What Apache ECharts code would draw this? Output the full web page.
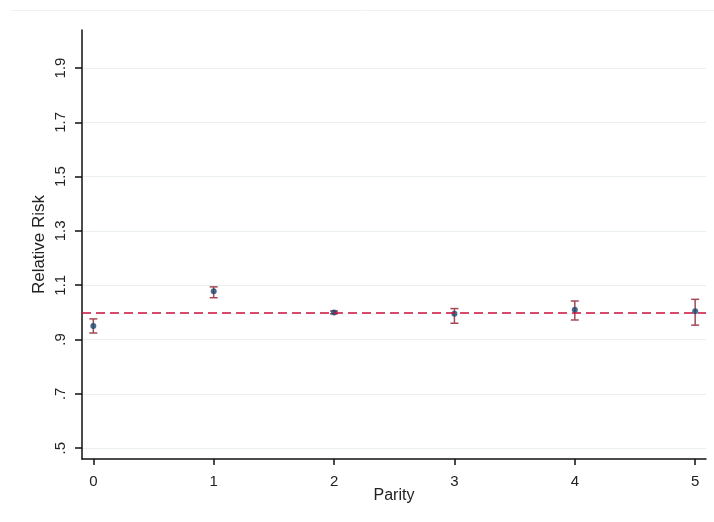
<!DOCTYPE html>
<html>
<head>
<meta charset="utf-8">
<script src="https://cdn.jsdelivr.net/npm/echarts@6/dist/echarts.min.js"></script>
<style>
  html, body { margin: 0; padding: 0; background: #fff; }
  #chart { width: 714px; height: 522px; }
</style>
</head>
<body>
<div id="chart"></div>
<script>
// parity categories and estimates
var parity = [0, 1, 2, 3, 4, 5];
var rr = [0.950, 1.078, 1.000, 0.995, 1.010, 1.004];
var ciLow = [0.924, 1.054, 0.995, 0.960, 0.972, 0.953];
var ciHigh = [0.976, 1.094, 1.005, 1.014, 1.042, 1.048];
var yTicks = [0.5, 0.7, 0.9, 1.1, 1.3, 1.5, 1.7, 1.9];
var xTicks = [0, 1, 2, 3, 4, 5];

var myChart = echarts.init(document.getElementById('chart'));

var points = parity.map(function (p, i) { return [p, rr[i]]; });
var bars = parity.map(function (p, i) { return [p, ciLow[i], ciHigh[i]]; });

var option = {
    animation: false,
    textStyle: { fontFamily: 'Liberation Sans, Arial, sans-serif' },
    grid: { left: 82, right: 8, top: 30, bottom: 63 },
    // faint graph-region border at the top
    graphic: [{
        type: 'line',
        shape: { x1: 11, y1: 10.5, x2: 714, y2: 10.5 },
        style: { stroke: '#eef2f3', lineWidth: 1 }
    }],
    xAxis: {
        type: 'value',
        min: -0.094,
        max: 5.09,
        name: 'Parity',
        nameLocation: 'middle',
        nameGap: 29,
        nameMoveOverlap: false,
        nameTextStyle: { color: '#222', fontSize: 16 },
        axisLine: { onZero: false, lineStyle: { color: '#111', width: 1.5 } },
        axisTick: { show: true, length: 6, customValues: xTicks, lineStyle: { color: '#111', width: 1.5 } },
        axisLabel: { customValues: xTicks, color: '#222', fontSize: 15, margin: 15 },
        splitLine: { show: false }
    },
    yAxis: {
        type: 'value',
        min: 0.46,
        max: 2.04,
        name: 'Relative Risk',
        nameLocation: 'middle',
        nameGap: 34,
        nameMoveOverlap: false,
        nameTextStyle: { color: '#222', fontSize: 17 },
        axisLine: { show: true, onZero: false, lineStyle: { color: '#111', width: 1.5 } },
        axisTick: { show: true, length: 7, customValues: yTicks, lineStyle: { color: '#111', width: 1.5 } },
        axisLabel: {
            customValues: yTicks,
            rotate: 90,
            color: '#222',
            fontSize: 15,
            margin: 14,
            formatter: function (v) {
                var s = v.toFixed(1);
                return s.charAt(0) === '0' ? s.slice(1) : s;
            }
        },
        splitLine: { show: true, lineStyle: { color: '#eaf0f2', width: 1 } }
    },
    series: [{
        // confidence intervals with caps
        type: 'custom',
        data: bars,
        z: 3,
        renderItem: function (params, api) {
            var x = api.value(0);
            var lo = api.coord([x, api.value(1)]);
            var hi = api.coord([x, api.value(2)]);
            var w = 4;
            var st = { stroke: '#a34a56', lineWidth: 1.5 };
            return {
                type: 'group',
                children: [
                    { type: 'line', shape: { x1: lo[0], y1: lo[1], x2: hi[0], y2: hi[1] }, style: st },
                    { type: 'line', shape: { x1: lo[0] - w, y1: lo[1], x2: lo[0] + w, y2: lo[1] }, style: st },
                    { type: 'line', shape: { x1: hi[0] - w, y1: hi[1], x2: hi[0] + w, y2: hi[1] }, style: st }
                ]
            };
        }
    }, {
        type: 'scatter',
        data: points,
        symbol: 'circle',
        symbolSize: 6,
        z: 4,
        itemStyle: { color: '#1a476f' },
        markLine: {
            silent: true,
            symbol: 'none',
            label: { show: false },
            lineStyle: { color: '#c8103c', type: [9, 5], width: 1.5 },
            data: [{ yAxis: 1 }]
        }
    }]
};

myChart.setOption(option);
window.addEventListener('resize', function () {
    myChart.resize();
});
</script>
</body>
</html>
